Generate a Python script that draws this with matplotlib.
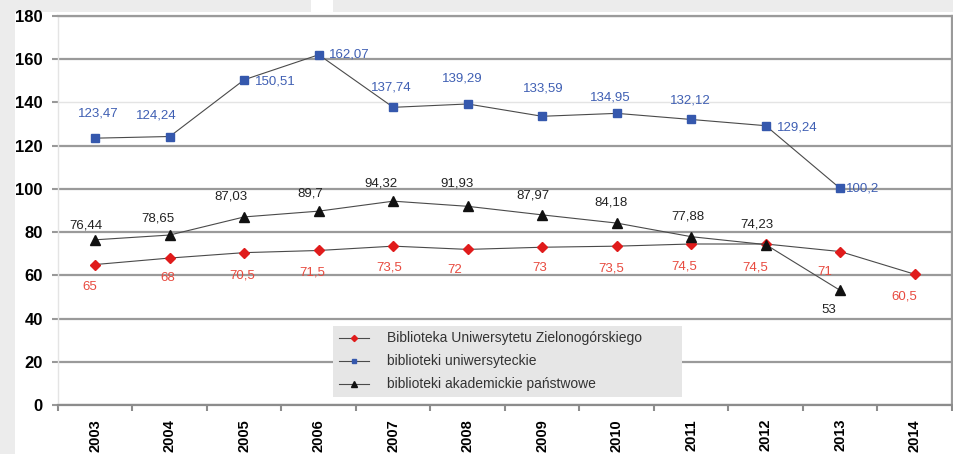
import matplotlib.pyplot as plt
import matplotlib.patches as mpatches
import numpy as np

plt.rcParams["font.family"] = ["Liberation Sans", "DejaVu Sans"]

years = ["2003", "2004", "2005", "2006", "2007", "2008",
         "2009", "2010", "2011", "2012", "2013", "2014"]
uz_library = [65, 68, 70.5, 71.5, 73.5, 72, 73, 73.5, 74.5, 74.5, 71, 60.5]
university_libs = [123.47, 124.24, 150.51, 162.07, 137.74, 139.29,
                   133.59, 134.95, 132.12, 129.24, 100.2, np.nan]
academic_state_libs = [76.44, 78.65, 87.03, 89.7, 94.32, 91.93,
                       87.97, 84.18, 77.88, 74.23, 53, np.nan]
series_names = ["Biblioteka Uniwersytetu Zielonogórskiego",
                "biblioteki uniwersyteckie",
                "biblioteki akademickie państwowe"]

# label offsets in pixels (dx, dy); "r" = placed right of the marker
red_off = [(-5, -22), (-2, -20), (-2, -23), (-6, -22), (-4, -21), (-13, -21),
           (-3, -21), (-6, -22), (-7, -23), (-11, -24), (-15, -20), (-10, -22)]
blue_off = [(3, 25), (-13, 21), ("r", 11, -2), ("r", 10, 0), (-2, 20), (-5, 25),
            (1, 28), (-6, 16), (-1, 19), ("r", 11, -2), ("r", 6, 0), None]
black_off = [(-9, 14), (-12, 17), (-13, 20), (-8, 18), (-12, 18), (-11, 23),
             (-9, 19), (-6, 21), (-3, 20), (-9, 20), (-11, -20), None]


def fmt(v):
    return f"{v:g}".replace(".", ",")


W, H = 954, 454
fig = plt.figure(figsize=(W / 100, H / 100), dpi=100, facecolor="#ececec")
for rect in [(15 / W, 0, 1 - 15 / W, (H - 12) / H),
             (311 / W, (H - 12) / H, 22 / W, 12 / H)]:
    fig.add_artist(mpatches.Rectangle(rect[:2], rect[2], rect[3],
                                      transform=fig.transFigure, facecolor="white",
                                      edgecolor="none", zorder=-10))

ax = fig.add_axes([58 / W, 49 / H, (952 - 58) / W, (405 - 16) / H])
ax.set_facecolor("white")

x = np.arange(len(years))
line_kw = dict(color="#4a4a4a", linewidth=0.8)
l1, = ax.plot(x, uz_library, marker="D", markersize=5.2, markerfacecolor="#e01b1b",
              markeredgecolor="#e01b1b", zorder=3, **line_kw)
l2, = ax.plot(x, university_libs, marker="s", markersize=6, markerfacecolor="#3558ad",
              markeredgecolor="#3558ad", zorder=3, **line_kw)
l3, = ax.plot(x, academic_state_libs, marker="^", markersize=7, markerfacecolor="#111111",
              markeredgecolor="#111111", zorder=4, **line_kw)


def put_labels(values, offsets, color):
    for xi, v, off in zip(x, values, offsets):
        if off is None or np.isnan(v):
            continue
        if off[0] == "r":
            dx, dy, ha = off[1], off[2], "left"
        else:
            dx, dy, ha = off[0], off[1], "center"
        ax.annotate(fmt(v), (xi, v), xytext=(dx, dy), textcoords="offset pixels",
                    ha=ha, va="center", fontsize=9.5, color=color, zorder=5)


put_labels(uz_library, red_off, "#e84a3f")
put_labels(university_libs, blue_off, "#3f5fb3")
put_labels(academic_state_libs, black_off, "#222222")

ax.set_xlim(-0.5, len(years) - 0.5)
ax.set_ylim(0, 180)
ax.set_yticks(np.arange(0, 181, 20))
ax.set_xticks(np.arange(-0.5, len(years), 1))
ax.set_xticklabels([])
ax.set_xticks(x, minor=True)
ax.set_xticklabels(years, minor=True, rotation=90, fontsize=10.5, fontweight="bold",
                   va="top", ha="center")
ax.tick_params(axis="x", which="minor", length=0, pad=10)
ax.tick_params(axis="x", which="major", length=4, width=1.5, color="#8c8c8c",
               direction="out")
ax.tick_params(axis="y", length=4.3, width=1.5, color="#999999", pad=6.5,
               labelsize=12)
for t in ax.get_yticklabels():
    t.set_fontweight("bold")

ax.yaxis.grid(True, color="#9a9a9a", linewidth=1.6)
ax.set_axisbelow(True)
ax.get_ygridlines()[7].set_color("#e4e4e4")
ax.get_ygridlines()[7].set_linewidth(1.0)

ax.spines["left"].set_color("#e4e4e4")
ax.spines["left"].set_linewidth(1.0)
ax.spines["bottom"].set_color("#8c8c8c")
ax.spines["bottom"].set_linewidth(1.6)
ax.spines["top"].set_color("#9a9a9a")
ax.spines["top"].set_linewidth(1.6)
ax.spines["right"].set_color("#9a9a9a")
ax.spines["right"].set_linewidth(1.6)

leg = ax.legend([l1, l2, l3], series_names, loc="lower left",
                bbox_to_anchor=(275 / 894, 8 / 389, 349 / 894, 70 / 389),
                mode="expand", borderaxespad=0, fontsize=10, markerscale=0.6,
                handlelength=2.2, handletextpad=1.3, labelspacing=0.65,
                borderpad=0.4, fancybox=False, framealpha=1, labelcolor="#333333")
leg.get_frame().set_facecolor("#e6e6e6")
leg.get_frame().set_edgecolor("none")

fig.savefig("out.png", dpi=100, facecolor=fig.get_facecolor())
